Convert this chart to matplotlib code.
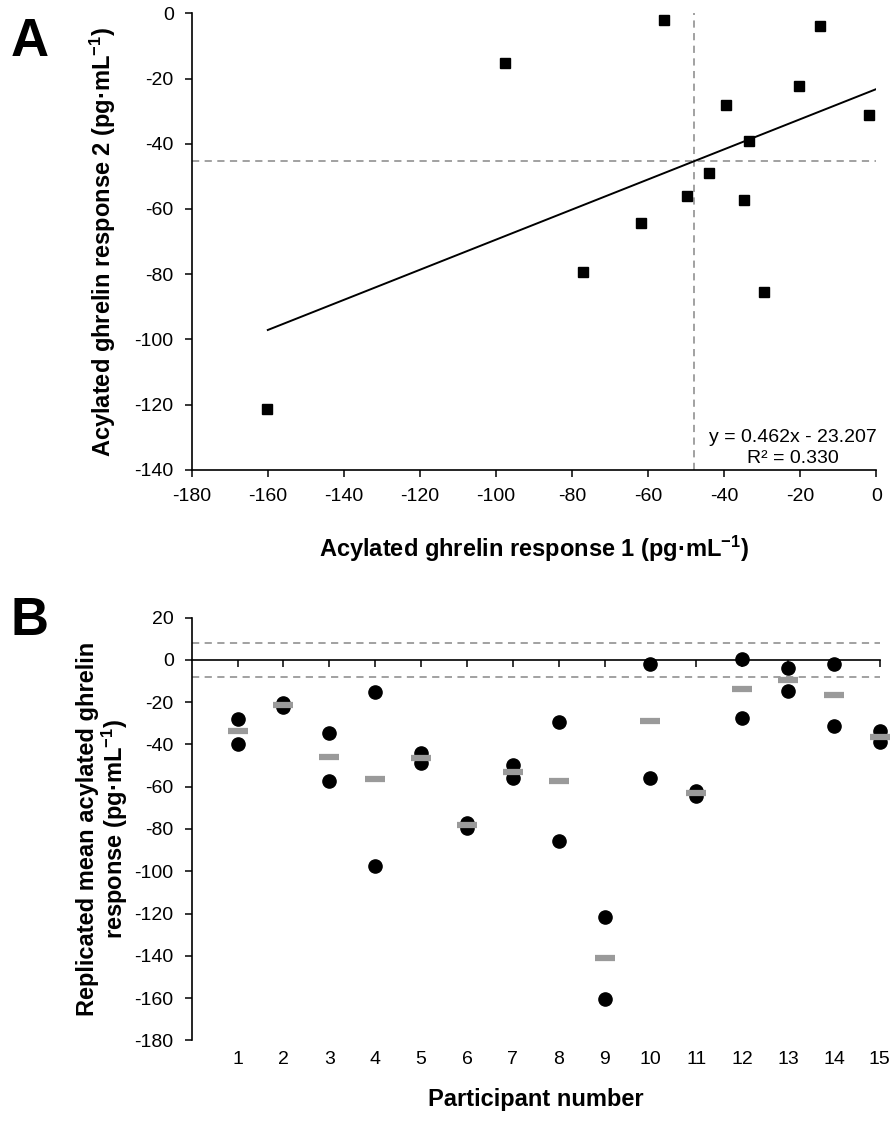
import numpy as np
import matplotlib
matplotlib.use("Agg")
import matplotlib.pyplot as plt

plt.rcParams["font.family"] = ["Liberation Sans", "DejaVu Sans"]
plt.rcParams["axes.unicode_minus"] = False
plt.rcParams["mathtext.fontset"] = "custom"
plt.rcParams["mathtext.rm"] = "Liberation Sans:bold"
plt.rcParams["mathtext.default"] = "rm"

# acylated ghrelin responses (pg/mL) for the two replicate trials, per participant
participants = np.arange(1, 16)
response1 = [-39.6, -20.2, -34.7, -97.6, -43.9, -77.2, -49.8, -29.4,
             -160.3, -55.9, -61.8, -27.7, -14.9, -2.0, -33.5]
response2 = [-28.0, -22.4, -57.1, -15.1, -48.9, -79.3, -56.0, -85.6,
             -121.5, -2.0, -64.3, 0.5, -4.0, -31.1, -39.0]

# regression reported on panel A
slope = 0.462
intercept = -23.207
r_squared = 0.330
fit_x = [-160, 0]

# reference lines
mean_r1 = -47.9
mean_r2 = -45.3
band = 8.2

r1 = np.array(response1)
r2 = np.array(response2)
means = (r1 + r2) / 2

fig = plt.figure(figsize=(8.96, 11.21), dpi=100)
tick_fs = 14
label_fs = 17
grey = "#9a9a9a"

# ---------------- panel A ----------------
axA = fig.add_axes([0.214, 0.581, 0.764, 0.407])
# points outside the axis range are not drawn (as in the original)
inside = (r1 <= 0) & (r2 <= 0)
axA.plot(r1[inside], r2[inside], "s", color="black", markersize=7.5, zorder=3)
fx = np.array(fit_x, dtype=float)
axA.plot(fx, slope * fx + intercept, color="black", lw=1.4, zorder=2)
axA.axvline(mean_r1, color=grey, ls=(0, (4, 3)), lw=1.3, zorder=1)
axA.axhline(mean_r2, color=grey, ls=(0, (4, 3)), lw=1.3, zorder=1)
axA.text(-22, -133.3, f"y = {slope:.3f}x - {abs(intercept):.3f}\nR² = {r_squared:.3f}",
         ha="center", va="center", fontsize=14, linespacing=1.3)

axA.set_xlim(-180, 0)
axA.set_ylim(-140, 0)
axA.set_xticks(np.arange(-180, 1, 20))
axA.set_yticks(np.arange(-140, 1, 20))
for s in ["top", "right"]:
    axA.spines[s].set_visible(False)
for s in ["left", "bottom"]:
    axA.spines[s].set_linewidth(1.2)
axA.tick_params(direction="out", length=5, width=1.1, labelsize=tick_fs, pad=8)
axA.set_xlabel(r"Acylated ghrelin response 1 (pg·mL$^{-1}$)",
               fontsize=label_fs, fontweight="bold", labelpad=21)
axA.set_ylabel(r"Acylated ghrelin response 2 (pg·mL$^{-1}$)",
               fontsize=label_fs, fontweight="bold", labelpad=12)
fig.text(0.012, 0.985, "A", fontsize=38, fontweight="bold", va="top", ha="left")

# ---------------- panel B ----------------
axB = fig.add_axes([0.214, 0.072, 0.768, 0.377])
axB.axhline(band, color=grey, ls=(0, (4, 3)), lw=1.3, zorder=1)
axB.axhline(-band, color=grey, ls=(0, (4, 3)), lw=1.3, zorder=1)
axB.plot(participants, r1, "o", color="black", markersize=9.5, clip_on=False, zorder=3)
axB.plot(participants, r2, "o", color="black", markersize=9.5, clip_on=False, zorder=3)
axB.plot(participants, means, "_", color=grey, markersize=14, mew=4.5,
         clip_on=False, zorder=4)

axB.set_xlim(0, 15)
axB.set_ylim(-180, 20)
axB.set_yticks(np.arange(-180, 21, 20))
axB.set_xticks(participants)
for s in ["top", "right"]:
    axB.spines[s].set_visible(False)
axB.spines["bottom"].set_position(("data", 0))
axB.spines["bottom"].set_linewidth(1.2)
axB.spines["left"].set_linewidth(1.2)
axB.tick_params(axis="y", direction="out", length=5, width=1.1, labelsize=tick_fs, pad=8)
axB.tick_params(axis="x", direction="out", length=5, width=1.1, labelbottom=False)

sec = axB.secondary_xaxis(0)
sec.set_xticks(participants)
sec.spines["bottom"].set_visible(False)
sec.tick_params(length=0, labelsize=tick_fs, pad=8)
sec.set_xlabel("Participant number", fontsize=label_fs, fontweight="bold", labelpad=14)

axB.set_ylabel("Replicated mean acylated ghrelin\n" + r"response (pg·mL$^{-1}$)",
               fontsize=label_fs, fontweight="bold", labelpad=3, linespacing=1.05)
fig.text(0.012, 0.468, "B", fontsize=38, fontweight="bold", va="top", ha="left")

fig.savefig("out.png", dpi=100)
